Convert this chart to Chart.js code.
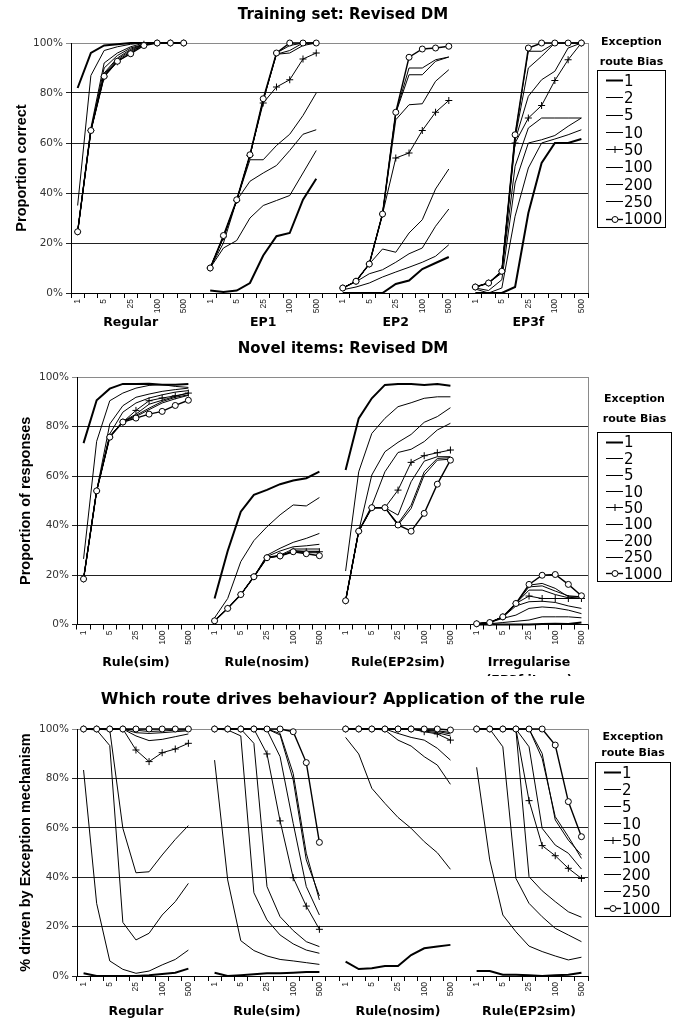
<!DOCTYPE html>
<html>
<head>
<meta charset="utf-8">
<script src="https://cdn.jsdelivr.net/npm/chart.js@4.4.1/dist/chart.umd.min.js"></script>
<style>
  body { margin: 0; background: #fff; }
  #wrap { position: relative; width: 677px; height: 1021px; background: #fff; overflow: hidden; }
  canvas { position: absolute; left: 0; }
  .legtitle { position: absolute; font: bold 11px "DejaVu Sans"; text-align: center; color: #000; }
  .legbox { position: absolute; border: 1px solid #000; box-sizing: border-box; background: #fff; }
  .legrow { position: absolute; left: 8px; font: 15px "DejaVu Sans"; color: #000; white-space: nowrap; display: flex; align-items: center; }
  .legrow svg { margin-right: 1px; }
</style>
</head>
<body>
<div id="wrap">
  <canvas id="c1" width="677" height="335" style="top:0px"></canvas>
  <canvas id="c2" width="677" height="341" style="top:335px"></canvas>
  <canvas id="c3" width="677" height="345" style="top:676px"></canvas>
</div>
<script>
// x levels inside every group, and the ones that get a tick label
const levels = ['1', '2', '5', '10', '25', '50', '100', '250', '500'];
const shownTicks = ['1', '5', '25', '100', '500'];
const biasNames = ['1', '2', '5', '10', '50', '100', '200', '250', '1000'];

// ---- Training set: Revised DM (groups: Regular, EP1, EP2, EP3f)
const trainGroups = ['Regular', 'EP1', 'EP2', 'EP3f'];
const trainB1 = [
  [82, 96, 99, 99.5, 100, 100, 100, 100, 100],
  [1, 0.4, 1, 4, 15, 22.7, 24, 37.3, 45.7],
  [0, 0, 0, 0, 3.6, 5, 9.6, 12, 14.4],
  [0, 0, 0, 2.4, 32, 52, 60, 60, 61.6]
];
const trainB2 = [
  [35, 87, 97, 98.5, 99.5, 100, 100, 100, 100],
  [10, 18, 21, 30, 35, 37, 39, 48, 57],
  [1.3, 2.4, 4, 6.4, 8.4, 10.3, 12.3, 14.7, 19.3],
  [1.6, 0, 2, 30.7, 50, 60, 61.6, 63.3, 65.3]
];
const trainB5 = [
  [24.5, 66, 92, 96, 98.5, 100, 100, 100, 100],
  [10, 20, 37, 44.7, 48, 51, 57, 63.5, 65.3],
  [2, 4.5, 7.7, 9.3, 12.3, 15.7, 18, 26.7, 33.6],
  [2, 1, 5.3, 44, 60, 61.3, 63, 66.7, 70]
];
const trainB10 = [
  [24.5, 65, 90, 95, 98, 99.5, 100, 100, 100],
  [10, 22, 37, 53.3, 53.3, 59, 63.5, 71, 80],
  [2, 4.7, 11.6, 17.6, 16.3, 24, 29.3, 41.6, 49.6],
  [2.4, 4, 8, 50.7, 66, 70, 70, 70, 70]
];
const trainB50 = [
  [24.5, 65, 86.5, 92.5, 96, 99.5, 100, 100, 100],
  [10, 22.5, 37, 55, 76, 82.4, 85.3, 93.6, 96],
  [2, 4.7, 11.6, 31.6, 54, 56, 65, 72.3, 77],
  [2.4, 4, 8.7, 60, 70, 75, 85, 93.3, 100]
];
const trainB100 = [
  [24.5, 65, 88, 94, 97.5, 99.5, 100, 100, 100],
  [10, 22.5, 37, 55, 77, 95.5, 96, 99, 100],
  [2, 4.7, 11.6, 31.6, 69.3, 75.3, 75.7, 84.7, 89.3],
  [2.4, 4, 8.7, 61, 78.7, 85.3, 88.7, 98, 100]
];
const trainB200 = [
  [24.5, 65, 87.5, 93.5, 97, 99.5, 100, 100, 100],
  [10, 22.5, 37, 55, 77, 95.5, 97, 100, 100],
  [2, 4.7, 11.6, 31.6, 72, 87.3, 87.3, 92.7, 94.4],
  [2.4, 4, 8.7, 62, 90, 94.7, 100, 100, 100]
];
const trainB250 = [
  [24.5, 65, 87, 93, 96.5, 99.5, 100, 100, 100],
  [10, 22.5, 37, 55, 77, 96, 99, 100, 100],
  [2, 4.7, 11.6, 31.6, 72, 90, 90, 93.3, 94.4],
  [2.4, 4, 8.7, 63, 96.7, 96.7, 100, 100, 100]
];
const trainB1000 = [
  [24.5, 65, 86.7, 92.7, 95.7, 99, 100, 100, 100],
  [10, 23, 37.3, 55.3, 77.7, 96, 100, 100, 100],
  [2, 4.7, 11.6, 31.6, 72.3, 94.3, 97.6, 98, 98.7],
  [2.4, 4, 8.7, 63.3, 98, 100, 100, 100, 100]
];

// ---- Novel items: Revised DM
const novelGroups = ['Rule(sim)', 'Rule(nosim)', 'Rule(EP2sim)', 'Irregularise\n(EP3f items)'];
const novelB1 = [
  [73.3, 90.6, 95.3, 97.2, 97.2, 97.3, 96.9, 96.9, 97.2],
  [10.5, 29.7, 45.6, 52.4, 54.4, 56.7, 58.2, 59.1, 61.8],
  [62.4, 83.3, 91.4, 96.8, 97.2, 97.2, 96.8, 97.2, 96.5],
  [0, 0, 0, 0, 0, 0.2, 0.3, 0.2, 0.8]
];
const novelB2 = [
  [26.5, 74, 90.4, 93.5, 95.5, 96.6, 96.9, 96.2, 95.8],
  [2.7, 10.5, 25.4, 33.9, 39.5, 44.3, 48.3, 47.9, 51.3],
  [21.6, 61.7, 77.2, 83.3, 88, 89.6, 91.4, 92, 92],
  [0, 0.3, 0.8, 1.3, 1.8, 3.1, 3.1, 3.1, 2.7]
];
const novelB5 = [
  [18.4, 54, 81, 88.4, 91.8, 93.1, 94.2, 94.9, 95.5],
  [1.5, 6.5, 12.1, 19.3, 28, 30.8, 33.2, 34.8, 36.8],
  [9.6, 37.7, 60.4, 69.8, 73.6, 76.8, 81.7, 84, 87.6],
  [0.3, 0.8, 2.5, 3.8, 6.5, 7.1, 6.7, 5.8, 4.4]
];
const novelB10 = [
  [18.4, 54, 77, 85.8, 89.5, 91.5, 92.8, 93.9, 94.5],
  [1.5, 6.5, 12.1, 19.3, 27.5, 29.7, 31.4, 31.8, 32.4],
  [9.6, 37.7, 48, 61.7, 69.5, 70.8, 73.9, 78.6, 81.3],
  [0.3, 0.8, 3, 7.5, 9.2, 9.4, 8.9, 7.5, 6.5]
];
const novelB50 = [
  [18.4, 54, 75.7, 81.8, 86.5, 90.4, 91.5, 92.4, 93.5],
  [1.5, 6.5, 12.1, 19.3, 27, 27.7, 29.7, 29.4, 29.4],
  [9.6, 37.7, 47.2, 47.2, 54.3, 65.5, 68.2, 69.4, 70.5],
  [0.3, 0.8, 3.1, 8.5, 11.5, 10.5, 10.5, 10.5, 10.5]
];
const novelB100 = [
  [18.4, 54, 76, 82, 85, 89, 90.6, 92.2, 93.5],
  [1.5, 6.5, 12.1, 19.3, 27.2, 28, 30.5, 30.5, 30.5],
  [9.6, 37.7, 47.2, 47.2, 44.2, 57.7, 66, 67.8, 67.8],
  [0.3, 0.8, 3.1, 8.5, 13.9, 13.9, 12.1, 10.8, 11.2]
];
const novelB200 = [
  [18.4, 54, 76, 82, 84.5, 87.4, 90.1, 91.8, 92.8],
  [1.5, 6.5, 12.1, 19.3, 27, 27.8, 29.8, 29.6, 29.6],
  [9.6, 37.7, 47.2, 47.2, 40.8, 48.2, 61.7, 67.1, 67.4],
  [0.3, 0.8, 3.1, 8.5, 15.2, 15.6, 13.5, 11.6, 11.2]
];
const novelB250 = [
  [18.4, 54, 76, 82, 84, 86.8, 89.5, 91.2, 92.6],
  [1.5, 6.5, 12.1, 19.3, 27, 27.7, 29.5, 29, 29],
  [9.6, 37.7, 47.2, 47.2, 40.2, 46.9, 60.4, 66.4, 66.8],
  [0.3, 0.8, 3.1, 8.5, 15.9, 16.6, 14.6, 11.2, 11.2]
];
const novelB1000 = [
  [18.4, 54, 75.7, 81.8, 83.4, 85, 86.1, 88.5, 90.6],
  [1.5, 6.5, 12.1, 19.3, 27, 27.7, 29.4, 28.6, 27.8],
  [9.6, 37.7, 47.2, 47.2, 40.2, 37.7, 44.9, 56.7, 66.4],
  [0.3, 0.8, 3.1, 8.5, 16.2, 19.9, 20.2, 16.2, 11.6]
];

// ---- Which route drives behaviour? Application of the rule
const routeGroups = ['Regular', 'Rule(sim)', 'Rule(nosim)', 'Rule(EP2sim)'];
const routeB1 = [
  [1.1, 0, 0, 0, 0, 0.3, 0.8, 1.3, 3],
  [1.3, 0, 0.3, 0.7, 1.1, 1.1, 1.3, 1.6, 1.6],
  [5.8, 2.8, 3.1, 4, 4, 8.5, 11.2, 11.9, 12.6],
  [2, 2, 0.5, 0.5, 0.3, 0, 0.3, 0.5, 1.3]
];
const routeB2 = [
  [83.4, 29.4, 6.1, 2.7, 1.1, 2, 4.5, 6.7, 10.5],
  [87.4, 38.9, 14.3, 10.3, 8.1, 6.7, 6.1, 5.4, 4.7],
  [96.6, 89.9, 76, 69.9, 64.2, 59.8, 54.4, 49.9, 43.2],
  [84.5, 47, 24.7, 17.9, 12.1, 9.9, 8.1, 6.5, 7.6]
];
const routeB5 = [
  [100, 99.6, 93.3, 21.7, 14.6, 17.3, 24.7, 30.1, 37.5],
  [100, 99.6, 97.2, 33.7, 22.7, 16.6, 13, 10.5, 9.2],
  [100, 100, 100, 99.6, 95.5, 93.1, 88.8, 85.4, 77.6],
  [100, 100, 92.8, 39.5, 29.4, 24, 19.3, 16.6, 13.9]
];
const routeB10 = [
  [100, 100, 99.6, 59.8, 41.8, 42.2, 49, 55.3, 60.9],
  [100, 100, 100, 94.2, 36.2, 24, 18.4, 13.9, 11.9],
  [100, 100, 100, 100, 98.2, 96.6, 95.5, 92.2, 87.4],
  [100, 100, 100, 99.6, 40.2, 34.5, 30.1, 26, 23.8]
];
const routeB50 = [
  [100, 100, 100, 100, 91.5, 86.8, 90.4, 91.9, 94.2],
  [100, 100, 100, 100, 89.9, 62.8, 39.8, 28.3, 18.9],
  [100, 100, 100, 100, 100, 100, 98.9, 98, 95.5],
  [100, 100, 100, 100, 71, 52.8, 48.7, 43.6, 39.5]
];
const routeB100 = [
  [100, 100, 100, 100, 97.2, 95.3, 95.8, 96.9, 98],
  [100, 100, 100, 100, 99.6, 88.8, 61.8, 36.2, 24.7],
  [100, 100, 100, 100, 100, 100, 99.2, 98.5, 97.2],
  [100, 100, 100, 100, 92.8, 59.8, 53, 49.7, 43.3]
];
const routeB200 = [
  [100, 100, 100, 100, 98.5, 98.2, 98.5, 98.9, 99.3],
  [100, 100, 100, 100, 100, 98.2, 82, 49.7, 30.8],
  [100, 100, 100, 100, 100, 100, 99.6, 99, 98],
  [100, 100, 100, 100, 100, 90.1, 63.2, 55, 49]
];
const routeB250 = [
  [100, 100, 100, 100, 99.5, 99, 99.2, 99.5, 99.6],
  [100, 100, 100, 100, 100, 97.6, 79.4, 47, 32.4],
  [100, 100, 100, 100, 100, 100, 99.8, 99.3, 98.6],
  [100, 100, 100, 100, 100, 88.1, 64.5, 56.4, 47.6]
];
const routeB1000 = [
  [100, 100, 100, 100, 100, 100, 100, 100, 100],
  [100, 100, 100, 100, 100, 100, 98.9, 86.4, 54.1],
  [100, 100, 100, 100, 100, 100, 100, 100, 99.6],
  [100, 100, 100, 100, 100, 100, 93.5, 70.6, 56.4]
];

Chart.defaults.font.family = '"DejaVu Sans", sans-serif';
Chart.defaults.color = '#000';

// join the four groups with one empty category between them
function joinGroups(groups, gap) {
  const out = [];
  groups.forEach((g, i) => {
    if (i) out.push(gap);
    out.push(...g);
  });
  return out;
}

const xLabels = joinGroups([levels, levels, levels, levels], '');

function seriesStyle(name) {
  const s = {
    borderColor: '#000', backgroundColor: '#fff', borderWidth: 1,
    pointRadius: 0, pointHoverRadius: 0, tension: 0, spanGaps: false, clip: false
  };
  if (name === '1') s.borderWidth = 2;
  if (name === '50') {
    s.pointStyle = 'cross'; s.pointRadius = 3.5; s.pointBorderWidth = 1; s.order = -1;
  }
  if (name === '1000') {
    s.borderWidth = 1.4; s.pointStyle = 'circle'; s.pointRadius = 3; s.pointBorderWidth = 1; s.order = -2;
  }
  return s;
}

function groupPlugin(names, offset) {
  return {
    id: 'groupLabels',
    afterDraw(chart) {
      const {ctx, chartArea, scales: {x}} = chart;
      ctx.save();
      // plot frame on the right
      ctx.strokeStyle = '#8a8a8a';
      ctx.lineWidth = 1;
      ctx.beginPath();
      ctx.moveTo(Math.round(chartArea.right) + 0.5, chartArea.top);
      ctx.lineTo(Math.round(chartArea.right) + 0.5, chartArea.bottom);
      ctx.stroke();
      ctx.font = 'bold 12.5px "DejaVu Sans"';
      ctx.fillStyle = '#000';
      ctx.textAlign = 'center';
      ctx.textBaseline = 'middle';
      names.forEach((name, g) => {
        const cx = (x.getPixelForValue(g * 10) + x.getPixelForValue(g * 10 + 8)) / 2;
        name.split('\n').forEach((line, k) => {
          ctx.fillText(line, cx, chartArea.bottom + offset + k * 18);
        });
      });
      ctx.restore();
    }
  };
}

function makeChart(id, o) {
  const datasets = o.series.map((vals, i) => Object.assign({
    label: biasNames[i],
    data: joinGroups(vals, null)
  }, seriesStyle(biasNames[i])));

  return new Chart(document.getElementById(id), {
    type: 'line',
    data: { labels: xLabels, datasets: datasets },
    options: {
      responsive: false,
      animation: false,
      layout: { padding: { left: 9, right: 0, top: 0, bottom: 0 } },
      plugins: {
        legend: { display: false },
        tooltip: { enabled: false },
        title: {
          display: true, text: o.title, color: '#000',
          font: { family: '"DejaVu Sans"', size: o.titleSize, weight: 'bold' },
          padding: o.titlePad
        }
      },
      scales: {
        x: {
          type: 'category',
          offset: true,
          afterFit: s => { s.height = o.xHeight; },
          grid: { offset: true, drawOnChartArea: false, drawTicks: true, tickLength: 5, color: '#000' },
          border: { color: '#000', width: 1 },
          ticks: {
            autoSkip: false, minRotation: 90, maxRotation: 90, padding: 1,
            color: '#222', font: { family: '"Liberation Sans"', size: 8.5 },
            callback: function (v) {
              const lab = this.getLabelForValue(v);
              return shownTicks.includes(lab) ? lab : '';
            }
          }
        },
        y: {
          min: 0, max: 100,
          afterFit: s => { s.width = o.yWidth; },
          grid: {
            color: c => (c.tick && c.tick.value === 100) ? '#8a8a8a' : '#222',
            tickLength: 5, lineWidth: 1
          },
          border: { color: '#000', width: 1 },
          ticks: {
            stepSize: 20, padding: 3, color: '#333',
            font: { family: '"DejaVu Sans"', size: 10.5 },
            callback: v => v + '%'
          },
          title: {
            display: true, text: o.yTitle, color: '#000',
            font: { family: '"Liberation Sans"', size: 14.5, weight: 'bold' },
            padding: { top: o.yTitlePad, bottom: 0 }
          }
        },
        y2: {
          position: 'right', min: 0, max: 1,
          afterFit: s => { s.width = 89; },
          grid: { display: false }, border: { display: false }, ticks: { display: false }
        }
      }
    },
    plugins: [groupPlugin(o.groups, o.groupOffset)]
  });
}

makeChart('c1', {
  title: 'Training set: Revised DM', titleSize: 15, titlePad: { top: 6, bottom: 19 },
  yTitle: 'Proportion correct', yTitlePad: 4.5, yWidth: 62, xHeight: 42, groupOffset: 30,
  groups: trainGroups,
  series: [trainB1, trainB2, trainB5, trainB10, trainB50, trainB100, trainB200, trainB250, trainB1000]
});
makeChart('c2', {
  title: 'Novel items: Revised DM', titleSize: 15, titlePad: { top: 5, bottom: 19 },
  yTitle: 'Proportion of responses', yTitlePad: 8.5, yWidth: 68, xHeight: 51.5, groupOffset: 38.5,
  groups: novelGroups,
  series: [novelB1, novelB2, novelB5, novelB10, novelB50, novelB100, novelB200, novelB250, novelB1000]
});
makeChart('c3', {
  title: 'Which route drives behaviour? Application of the rule', titleSize: 16, titlePad: { top: 14.4, bottom: 19.4 },
  yTitle: '% driven by Exception mechanism', yTitlePad: 8.5, yWidth: 68, xHeight: 45, groupOffset: 36,
  groups: routeGroups,
  series: [routeB1, routeB2, routeB5, routeB10, routeB50, routeB100, routeB200, routeB250, routeB1000]
});

// HTML legends, one per chart
function sampleSvg(name) {
  const w = name === '1' ? 2 : (name === '1000' ? 1.4 : 1);
  let mark = '';
  if (name === '50') mark = '<line x1="9" y1="5" x2="9" y2="12" stroke="#000"/><line x1="5.5" y1="8.5" x2="12.5" y2="8.5" stroke="#000"/>';
  if (name === '1000') mark = '<circle cx="9" cy="8.5" r="3" fill="#fff" stroke="#000"/>';
  return '<svg width="17" height="17"><line x1="0" y1="8.5" x2="17" y2="8.5" stroke="#000" stroke-width="' + w + '"/>' + mark + '</svg>';
}

function makeLegend(L) {
  const wrap = document.getElementById('wrap');
  const t = document.createElement('div');
  t.className = 'legtitle';
  t.style.left = (L.left - 10) + 'px';
  t.style.width = (L.width + 20) + 'px';
  t.style.top = L.titleTop + 'px';
  t.style.lineHeight = L.titleLine + 'px';
  t.innerHTML = 'Exception<br>route Bias';
  wrap.appendChild(t);
  const box = document.createElement('div');
  box.className = 'legbox';
  box.style.left = L.left + 'px';
  box.style.top = L.top + 'px';
  box.style.width = L.width + 'px';
  box.style.height = L.height + 'px';
  const step = (L.height - 2) / biasNames.length;
  biasNames.forEach((name, i) => {
    const row = document.createElement('div');
    row.className = 'legrow';
    row.style.top = (1 + i * step) + 'px';
    row.style.height = step + 'px';
    row.innerHTML = sampleSvg(name) + '<span>' + name + '</span>';
    box.appendChild(row);
  });
  wrap.appendChild(box);
}

makeLegend({ left: 597, top: 70, width: 69, height: 158, titleTop: 32, titleLine: 20 });
makeLegend({ left: 597, top: 432, width: 75, height: 150, titleTop: 389, titleLine: 20 });
makeLegend({ left: 595, top: 762, width: 76, height: 155, titleTop: 729, titleLine: 16 });
</script>
</body>
</html>
